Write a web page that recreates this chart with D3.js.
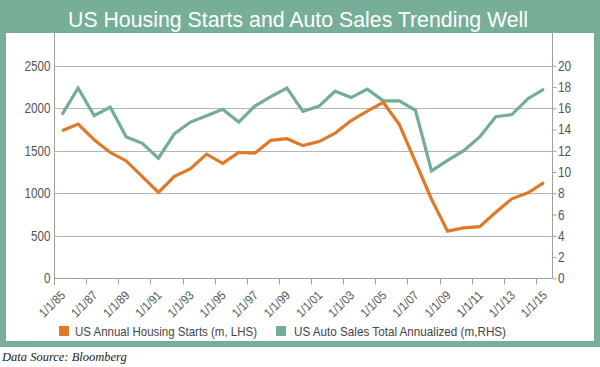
<!DOCTYPE html>
<html>
<head>
<meta charset="utf-8">
<script src="https://cdn.jsdelivr.net/npm/d3@7"></script>
<style>
  html, body { margin: 0; padding: 0; background: #fff; }
  svg { display: block; }
  .nar { font-family: "Liberation Sans", Arial, sans-serif; }
</style>
</head>
<body>
<svg id="chart" width="600" height="367"></svg>
<script>
// ---- data ----
const categories = ["1/1/85","1/1/86","1/1/87","1/1/88","1/1/89","1/1/90","1/1/91","1/1/92","1/1/93","1/1/94",
  "1/1/95","1/1/96","1/1/97","1/1/98","1/1/99","1/1/00","1/1/01","1/1/02","1/1/03","1/1/04",
  "1/1/05","1/1/06","1/1/07","1/1/08","1/1/09","1/1/10","1/1/11","1/1/12","1/1/13","1/1/14","1/1/15"];
const housingStarts = [1736, 1814, 1630, 1480, 1380, 1195, 1010, 1198, 1290, 1460,
  1352, 1480, 1472, 1622, 1642, 1560, 1608, 1708, 1855, 1965,
  2068, 1808, 1370, 930, 554, 592, 608, 776, 935, 1006, 1125];
const autoSales = [15.4, 17.9, 15.3, 16.1, 13.3, 12.7, 11.3, 13.6, 14.7, 15.3,
  15.9, 14.7, 16.2, 17.1, 17.9, 15.7, 16.2, 17.6, 17.0, 17.8,
  16.7, 16.7, 15.8, 10.1, 11.1, 12.0, 13.3, 15.2, 15.4, 16.9, 17.8];
const leftTicks = [0, 500, 1000, 1500, 2000, 2500];
const rightTicks = [0, 2, 4, 6, 8, 10, 12, 14, 16, 18, 20];
const xTickLabels = ["1/1/85","1/1/87","1/1/89","1/1/91","1/1/93","1/1/95","1/1/97","1/1/99",
  "1/1/01","1/1/03","1/1/05","1/1/07","1/1/09","1/1/11","1/1/13","1/1/15"];
const titleText = "US Housing Starts and Auto Sales Trending Well";
const seriesNames = ["US Annual Housing Starts (m, LHS)", "US Auto Sales Total Annualized (m,RHS)"];
const sourceText = "Data Source: Bloomberg";

// ---- style ----
const GREEN_FRAME = "#77ae98";
const ORANGE = "#de7a2a";
const GREEN_LINE = "#74ad96";
const GRID = "#b5b5b5";
const AXIS = "#a0a0a0";
const LABEL = "#555";

const svg = d3.select("#chart");

// frame
svg.append("rect").attr("x", 0).attr("y", 0).attr("width", 600).attr("height", 347).attr("fill", GREEN_FRAME);
svg.append("rect").attr("x", 6).attr("y", 33).attr("width", 588).attr("height", 308).attr("fill", "#fff");

svg.append("text").text(titleText)
  .attr("x", 298).attr("y", 27).attr("text-anchor", "middle")
  .attr("fill", "#fff").attr("font-size", 22)
  .attr("font-family", "'Liberation Sans', Arial, sans-serif")
  .attr("textLength", 460).attr("lengthAdjust", "spacingAndGlyphs");

// scales
const plotL = 54, plotR = 552, plotTop = 33;
const x = d3.scaleBand().domain(categories).range([plotL, plotR]).padding(0);
const bw = x.bandwidth();
const yL = d3.scaleLinear().domain([0, 2500]).range([278.3, 65.7]);
const yR = d3.scaleLinear().domain([0, 20]).range([278.3, 65.7]);

// gridlines
svg.append("g").selectAll("line").data(leftTicks.slice(1)).join("line")
  .attr("x1", plotL).attr("x2", plotR)
  .attr("y1", d => Math.round(yL(d)) + 0.5).attr("y2", d => Math.round(yL(d)) + 0.5)
  .attr("stroke", GRID).attr("stroke-width", 1);

// left axis
const gL = svg.append("g").attr("class", "nar").attr("transform", `translate(${plotL + 0.5},0)`)
  .call(d3.axisLeft(yL).tickValues(leftTicks).tickFormat(d3.format("d")).tickSize(0).tickPadding(4));
gL.select(".domain").remove();
gL.selectAll("text").attr("fill", LABEL).attr("font-size", 14).attr("font-family", null)
  .attr("textLength", d => String(d).length * 6.5).attr("lengthAdjust", "spacingAndGlyphs");
gL.append("line").attr("x1", 0).attr("x2", 0).attr("y1", plotTop).attr("y2", 285).attr("stroke", AXIS);

// right axis
const gR = svg.append("g").attr("class", "nar").attr("transform", `translate(${plotR + 0.5},0)`)
  .call(d3.axisRight(yR).tickValues(rightTicks).tickFormat(d3.format("d")).tickSize(4).tickPadding(1.5));
gR.select(".domain").remove();
gR.selectAll("line").attr("stroke", AXIS);
gR.selectAll("text").attr("fill", LABEL).attr("font-size", 14).attr("font-family", null)
  .attr("textLength", d => String(d).length * 6.6).attr("lengthAdjust", "spacingAndGlyphs");
gR.append("line").attr("x1", 0).attr("x2", 0).attr("y1", plotTop).attr("y2", 278.5).attr("stroke", AXIS);

// x axis baseline
const y0 = Math.round(yL(0)) + 0.5;
svg.append("line").attr("x1", plotL).attr("x2", plotR).attr("y1", y0).attr("y2", y0).attr("stroke", AXIS);

// x ticks (at left boundary of each labelled category)
const gX = svg.append("g").attr("class", "nar");
gX.selectAll("line").data(xTickLabels).join("line")
  .attr("x1", d => Math.round(x(d)) + 0.5).attr("x2", d => Math.round(x(d)) + 0.5)
  .attr("y1", y0).attr("y2", y0 + 6).attr("stroke", AXIS);
gX.selectAll("text").data(xTickLabels).join("text")
  .text(d => d)
  .attr("transform", d => `translate(${x(d) + bw / 2 + 4},296) rotate(-45)`)
  .attr("text-anchor", "end").attr("fill", LABEL).attr("font-size", 12.5)
  .attr("textLength", 31).attr("lengthAdjust", "spacingAndGlyphs");

// lines
const lineL = d3.line().x((d, i) => x(categories[i]) + bw / 2).y(d => yL(d));
const lineR = d3.line().x((d, i) => x(categories[i]) + bw / 2).y(d => yR(d));
svg.append("path").datum(autoSales).attr("d", lineR).attr("fill", "none")
  .attr("stroke", GREEN_LINE).attr("stroke-width", 3.2).attr("stroke-linejoin", "miter");
svg.append("path").datum(housingStarts).attr("d", lineL).attr("fill", "none")
  .attr("stroke", ORANGE).attr("stroke-width", 3.2).attr("stroke-linejoin", "miter");

// legend
const legend = [
  { name: seriesNames[0], color: ORANGE, sx: 59, tx: 75, len: 182 },
  { name: seriesNames[1], color: GREEN_LINE, sx: 276, tx: 294, len: 212 }
];
const gLeg = svg.append("g").attr("class", "nar");
gLeg.selectAll("rect").data(legend).join("rect")
  .attr("x", d => d.sx).attr("y", 326).attr("width", 10).attr("height", 10).attr("fill", d => d.color);
gLeg.selectAll("text").data(legend).join("text")
  .text(d => d.name).attr("x", d => d.tx).attr("y", 336)
  .attr("fill", "#444").attr("font-size", 13.5)
  .attr("textLength", d => d.len).attr("lengthAdjust", "spacingAndGlyphs");

// source
svg.append("text").text(sourceText)
  .attr("x", 2).attr("y", 361)
  .attr("font-family", "'Liberation Serif', 'Times New Roman', serif")
  .attr("font-style", "italic").attr("font-size", 12.5).attr("fill", "#222");
</script>
</body>
</html>
